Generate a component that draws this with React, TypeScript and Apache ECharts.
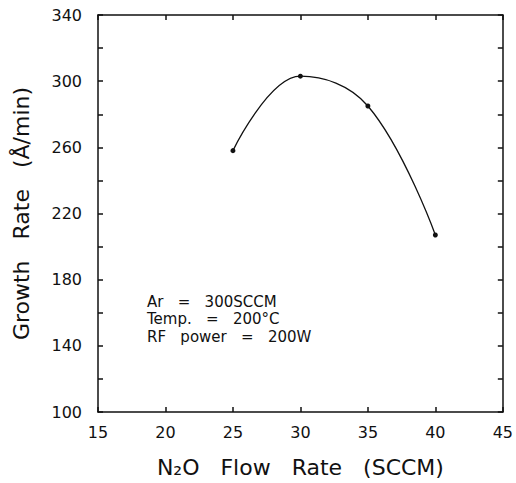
import React, { useEffect, useRef } from "react";
import * as echarts from "echarts";

const flowRates = [25, 30, 35, 40];
const growthRates = [258, 303, 285, 207];
const annotationLines = ["Ar   =   300SCCM", "Temp.   =   200°C", "RF   power   =   200W"];
const xTitle = "N₂O   Flow   Rate   (SCCM)";
const yTitle = "Growth   Rate   (Å/min)";

export default function App() {
  const ref = useRef<HTMLDivElement>(null);
  useEffect(() => {
    if (!ref.current) return;
    const chart = echarts.init(ref.current, null, { renderer: "svg" });
    const font = "DejaVu Sans";
    const lineStyle = { color: "#111", width: 1.5 };
    chart.setOption({
      animation: false,
      backgroundColor: "#fff",
      grid: { left: 98, top: 15, right: 13, bottom: 69, containLabel: false },
      xAxis: [
        {
          type: "value",
          min: 15,
          max: 45,
          interval: 5,
          position: "bottom",
          axisLine: { show: true, onZero: false, lineStyle },
          axisTick: { show: true, inside: true, length: 5, lineStyle },
          axisLabel: { color: "#111", fontSize: 16, fontFamily: font, margin: 12 },
          splitLine: { show: false },
          name: xTitle,
          nameLocation: "middle",
          nameGap: 44,
          nameTextStyle: { color: "#111", fontSize: 22, fontFamily: font },
        },
        {
          type: "value",
          min: 15,
          max: 45,
          interval: 5,
          position: "top",
          axisLine: { show: true, onZero: false, lineStyle },
          axisTick: { show: true, inside: true, length: 5, lineStyle },
          axisLabel: { show: false },
          splitLine: { show: false },
        },
      ],
      yAxis: [
        {
          type: "value",
          min: 100,
          max: 340,
          interval: 40,
          position: "left",
          axisLine: { show: true, onZero: false, lineStyle },
          axisTick: { show: true, inside: true, length: 5, lineStyle },
          minorTick: { show: true, splitNumber: 2, length: 5, lineStyle: { color: "#111", width: 1.5 } },
          axisLabel: { color: "#111", fontSize: 16, fontFamily: font, margin: 16 },
          splitLine: { show: false },
          name: yTitle,
          nameLocation: "middle",
          nameGap: 66,
          nameTextStyle: { color: "#111", fontSize: 22, fontFamily: font },
        },
        {
          type: "value",
          min: 100,
          max: 340,
          interval: 40,
          position: "right",
          axisLine: { show: true, onZero: false, lineStyle },
          axisTick: { show: true, inside: true, length: 5, lineStyle },
          minorTick: { show: true, splitNumber: 2, length: 5, lineStyle: { color: "#111", width: 1.5 } },
          axisLabel: { show: false },
          splitLine: { show: false },
        },
      ],
      series: [
        {
          type: "line",
          data: flowRates.map((x, i) => [x, growthRates[i]]),
          smooth: 0.4,
          symbol: "circle",
          symbolSize: 5,
          itemStyle: { color: "#111" },
          lineStyle: { color: "#111", width: 1.3 },
        },
      ],
      graphic: annotationLines.map((t, i) => ({
        type: "text",
        left: 147,
        top: 294 + i * 17.5,
        style: {
          text: t,
          font: `15px "${font}"`,
          fill: "#111",
        },
      })),
    });
    return () => chart.dispose();
  }, []);
  return (
    <div
      ref={ref}
      style={{ position: "fixed", left: 0, top: 0, width: 516, height: 483 }}
    />
  );
}
